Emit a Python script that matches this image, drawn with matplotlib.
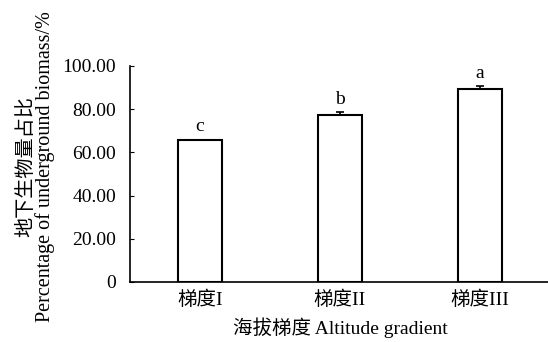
import matplotlib
matplotlib.use("Agg")
from matplotlib import pyplot as plt

plt.rcParams['font.family'] = ['Liberation Serif', 'Noto Sans CJK SC']

categories = ["梯度I", "梯度II", "梯度III"]
values = [65.6, 77.5, 89.2]
errors = [0.3, 1.0, 1.6]
letters = ["c", "b", "a"]
yticks = [0, 20, 40, 60, 80, 100]
ytick_labels = ["0", "20.00", "40.00", "60.00", "80.00", "100.00"]

fig = plt.figure(figsize=(5.48, 3.42), dpi=100)
ax = fig.add_axes([130 / 548, 1 - 282 / 342, 420 / 548, 216 / 342])

x = range(len(categories))
# only the upper half of the error bar is shown
ax.bar(x, values, width=0.31, color="white", edgecolor="black", linewidth=1.5,
       yerr=[[0] * len(errors), errors],
       error_kw=dict(ecolor="black", elinewidth=1.2, capsize=3, capthick=1.2))

for i, (v, e, s) in enumerate(zip(values, errors, letters)):
    ax.text(i, v + e + 2, s, ha="center", va="bottom", fontsize=14)

ax.set_xlim(-0.5, 2.5)
ax.set_ylim(0, 100)
ax.set_xticks(list(x))
ax.set_xticklabels(categories, fontsize=14)
ax.set_yticks(yticks)
ax.set_yticklabels(ytick_labels, fontsize=14)
ax.tick_params(axis="x", length=0, pad=6)
ax.tick_params(axis="y", direction="in", length=3, pad=10)

for side in ["top", "right"]:
    ax.spines[side].set_visible(False)
for side in ["left", "bottom"]:
    ax.spines[side].set_linewidth(1.2)

ax.set_xlabel("海拔梯度 Altitude gradient", fontsize=14, labelpad=6)
fig.text(27 / 548, 1 - 167 / 342, "地下生物量占比", rotation=90,
         ha="center", va="center", fontsize=14.5)
fig.text(45 / 548, 1 - 167 / 342, "Percentage of underground biomass/%", rotation=90,
         ha="center", va="center", fontsize=14.5)

fig.savefig("out.png", dpi=100)
